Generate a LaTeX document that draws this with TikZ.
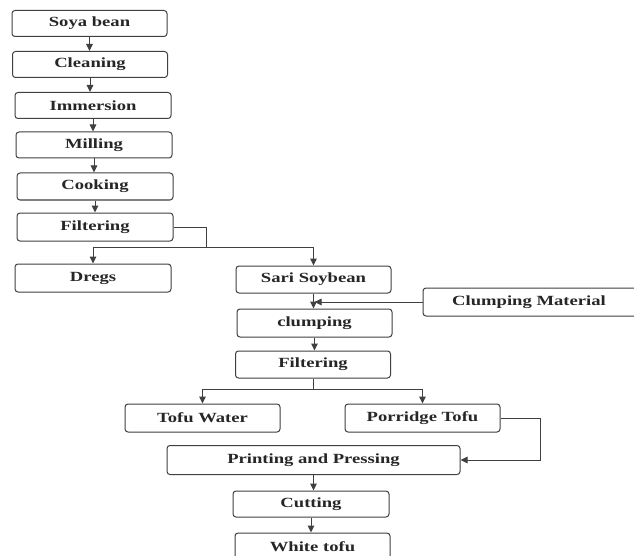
\documentclass[tikz,border=0pt]{standalone}
\usepackage{fontspec}
\usepackage{graphicx}
\setmainfont{Liberation Serif}
\newcommand\wtxt[1]{\scalebox{1.33}[1]{#1}}
\usetikzlibrary{arrows.meta}
\begin{document}
\begin{tikzpicture}[x=1pt,y=-1pt,
  box/.style={draw=black!75,line width=1pt,rounded corners=3pt,fill=white,
    minimum width=155pt,minimum height=26pt,inner sep=0pt,
    font=\fontsize{14}{16}\selectfont\bfseries,text=black!85},
  conn/.style={draw=black!75,line width=1pt},
  arr/.style={conn,-{Triangle[length=7pt,width=6.5pt]}}]
\clip (0,0) rectangle (634,556);
\fill[white] (0,0) rectangle (634,556);
\node[box] (soya) at (89.5,23.5) {\wtxt{Soya bean}};
\node[box] (clean) at (90,64.5) {\wtxt{Cleaning}};
\node[box,minimum width=156pt] (imm) at (93,105.5) {\wtxt{Immersion}};
\node[box,minimum width=156pt] (mill) at (94,145) {\wtxt{Milling}};
\node[box,minimum width=156pt,minimum height=27pt] (cook) at (95,186.5) {\wtxt{Cooking}};
\node[box,minimum width=156pt,minimum height=28pt] (filt) at (95,227) {\wtxt{Filtering}};
\node[box,minimum width=156pt,minimum height=28pt] (dregs) at (93,278) {\wtxt{Dregs}};
\node[box,minimum height=27pt] (sari) at (313.5,279.5) {\wtxt{Sari Soybean}};
\node[box,minimum width=220pt,minimum height=28pt] (cmat) at (533,302) {\hspace*{-8pt}\wtxt{Clumping Material}};
\node[box,minimum height=28pt] (clump) at (314.5,323) {\wtxt{clumping}};
\node[box,minimum height=27pt] (filt2) at (313,364.5) {\wtxt{Filtering}};
\node[box,minimum height=28pt] (tofuw) at (202.5,418) {\wtxt{Tofu Water}};
\node[box,minimum height=28pt] (porr) at (422.5,418) {\wtxt{Porridge Tofu}};
\node[box,minimum width=293pt,minimum height=29pt] (print) at (313.5,460) {\wtxt{Printing and Pressing}};
\node[box,minimum width=156pt] (cut) at (311,504) {\wtxt{Cutting}};
\node[box,minimum height=28pt] (white) at (312.5,547) {\wtxt{White tofu}};
% main column
\draw[arr] (soya.south) -- (soya.south |- clean.north);
\draw[arr] (clean.south) -- (clean.south |- imm.north);
\draw[arr] (imm.south) -- (imm.south |- mill.north);
\draw[arr] (mill.south) -- (mill.south |- cook.north);
\draw[arr] (cook.south) -- (cook.south |- filt.north);
% first split
\coordinate (fj) at (206,247);
\draw[conn] (filt.east) -| (fj);
\draw[arr] (fj) -| (dregs.north);
\draw[arr] (fj) -| (sari.north);
% clumping
\draw[arr] (sari.south) -- (sari.south |- clump.north);
\draw[arr] (cmat.west) -- ([xshift=1pt]sari.south |- cmat.west);
\draw[arr] (clump.south) -- (clump.south |- filt2.north);
% second split
\coordinate (sj) at (313,389);
\draw[conn] (filt2.south) -- (sj);
\draw[arr] (sj) -| (tofuw.north);
\draw[arr] (sj) -| (porr.north);
% porridge to printing
\coordinate (pj) at (540,418);
\draw[arr] (porr.east) -- (pj) |- (print.east);
\draw[arr] (print.south) -- (print.south |- cut.north);
\draw[arr] (cut.south) -- (cut.south |- white.north);
\end{tikzpicture}
\end{document}
